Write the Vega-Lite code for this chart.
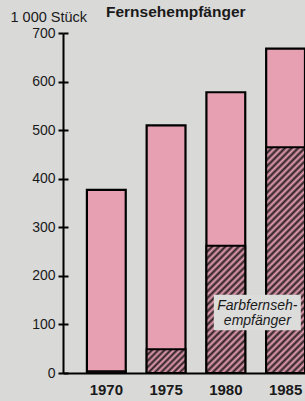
{
  "$schema": "https://vega.github.io/schema/vega-lite/v6.json",
  "width": 242,
  "height": 340,
  "autosize": {"type": "none"},
  "padding": {"left": 63, "top": 33, "right": 0, "bottom": 28},
  "background": "#d9d9d8",
  "config": {
    "view": {"stroke": null},
    "font": "Liberation Sans",
    "axisY": {"values": [0, 100, 200, 300, 400, 500, 600, 700], "titleAngle": 0, "titleX": -53, "titleY": -12, "titleAlign": "left", "titleBaseline": "alphabetic", "titleFontSize": 14.5, "titleFontWeight": "normal", "titleColor": "#1a1a1a", "labelFontSize": 14, "labelColor": "#1a1a1a", "labelPadding": 3, "tickSize": 5, "tickWidth": 2, "tickColor": "black", "domainColor": "black", "domainWidth": 2, "grid": false}
  },
  "resolve": {"axis": {"y": "independent"}},
  "title": {"text": "Fernsehempfänger", "anchor": "start", "frame": "group", "dx": 43, "offset": 0, "dy": 23, "fontSize": 15.5, "fontWeight": "bold", "color": "#1a1a1a", "baseline": "alphabetic"},
  "datasets": {
    "tv": [
      {"year": "1970", "total": 377, "farb": 4},
      {"year": "1975", "total": 510, "farb": 49},
      {"year": "1980", "total": 578, "farb": 262},
      {"year": "1985", "total": 668, "farb": 465}
    ],
    "note": [{"label": "Farbfernseh-\nempfänger"}]
  },
  "data": {"name": "tv"},
  "encoding": {
    "x": {
      "field": "year", "type": "ordinal",
      "scale": {"paddingInner": 0.35, "paddingOuter": 0.2, "align": 1},
      "axis": {"title": null, "labelAngle": 0, "ticks": false, "labelFontSize": 15, "labelFontWeight": "bold", "labelPadding": 9, "domainColor": "black", "domainWidth": 2, "labelColor": "#1a1a1a"}
    }
  },
  "layer": [
    {
      "mark": {"type": "bar", "fill": "#e6a0b2", "stroke": "black", "strokeWidth": 2.2},
      "encoding": {
        "y": {"field": "total", "type": "quantitative", "title": "1 000 Stück", "scale": {"domain": [0, 700], "nice": false}, "axis": {"orient": "left"}}
      }
    },
    {
      "transform": [{"filter": "datum.year == '1970'"}],
      "mark": {"type": "bar", "fill": "#2b1d24", "stroke": "black", "strokeWidth": 1.5},
      "encoding": {"y": {"field": "farb", "type": "quantitative", "axis": {"orient": "left", "title": null, "labels": false, "domain": false, "tickSize": -5}}}
    },
    {
      "transform": [{"filter": "datum.year == '1975'"}],
      "mark": {"type": "bar", "stroke": "black", "strokeWidth": 2,
        "fill": {"gradient": "linear", "x1": 0, "y1": 0, "x2": 1.1735, "y2": 0.7162, "stops": [
          {"offset": 0, "color": "#2b1d24"}, {"offset": 0.05, "color": "#e6a0b2"}, {"offset": 0.1, "color": "#2b1d24"}, {"offset": 0.15, "color": "#e6a0b2"}, {"offset": 0.2, "color": "#2b1d24"}, {"offset": 0.25, "color": "#e6a0b2"}, {"offset": 0.3, "color": "#2b1d24"}, {"offset": 0.35, "color": "#e6a0b2"}, {"offset": 0.4, "color": "#2b1d24"}, {"offset": 0.45, "color": "#e6a0b2"}, {"offset": 0.5, "color": "#2b1d24"}, {"offset": 0.55, "color": "#e6a0b2"}, {"offset": 0.6, "color": "#2b1d24"}, {"offset": 0.65, "color": "#e6a0b2"}, {"offset": 0.7, "color": "#2b1d24"}, {"offset": 0.75, "color": "#e6a0b2"}, {"offset": 0.8, "color": "#2b1d24"}, {"offset": 0.85, "color": "#e6a0b2"}, {"offset": 0.9, "color": "#2b1d24"}, {"offset": 0.95, "color": "#e6a0b2"}, {"offset": 1, "color": "#2b1d24"}
        ]}},
      "encoding": {"y": {"field": "farb", "type": "quantitative", "axis": null}}
    },
    {
      "transform": [{"filter": "datum.year == '1980'"}],
      "mark": {"type": "bar", "stroke": "black", "strokeWidth": 2,
        "fill": {"gradient": "linear", "x1": 0, "y1": 0, "x2": 0.3659, "y2": 1.1943, "stops": [
          {"offset": 0, "color": "#2b1d24"}, {"offset": 0.02, "color": "#e6a0b2"}, {"offset": 0.04, "color": "#2b1d24"}, {"offset": 0.06, "color": "#e6a0b2"}, {"offset": 0.08, "color": "#2b1d24"}, {"offset": 0.1, "color": "#e6a0b2"}, {"offset": 0.12, "color": "#2b1d24"}, {"offset": 0.14, "color": "#e6a0b2"}, {"offset": 0.16, "color": "#2b1d24"}, {"offset": 0.18, "color": "#e6a0b2"}, {"offset": 0.2, "color": "#2b1d24"}, {"offset": 0.22, "color": "#e6a0b2"}, {"offset": 0.24, "color": "#2b1d24"}, {"offset": 0.26, "color": "#e6a0b2"}, {"offset": 0.28, "color": "#2b1d24"}, {"offset": 0.3, "color": "#e6a0b2"}, {"offset": 0.32, "color": "#2b1d24"}, {"offset": 0.34, "color": "#e6a0b2"}, {"offset": 0.36, "color": "#2b1d24"}, {"offset": 0.38, "color": "#e6a0b2"}, {"offset": 0.4, "color": "#2b1d24"}, {"offset": 0.42, "color": "#e6a0b2"}, {"offset": 0.44, "color": "#2b1d24"}, {"offset": 0.46, "color": "#e6a0b2"}, {"offset": 0.48, "color": "#2b1d24"}, {"offset": 0.5, "color": "#e6a0b2"}, {"offset": 0.52, "color": "#2b1d24"}, {"offset": 0.54, "color": "#e6a0b2"}, {"offset": 0.56, "color": "#2b1d24"}, {"offset": 0.58, "color": "#e6a0b2"}, {"offset": 0.6, "color": "#2b1d24"}, {"offset": 0.62, "color": "#e6a0b2"}, {"offset": 0.64, "color": "#2b1d24"}, {"offset": 0.66, "color": "#e6a0b2"}, {"offset": 0.68, "color": "#2b1d24"}, {"offset": 0.7, "color": "#e6a0b2"}, {"offset": 0.72, "color": "#2b1d24"}, {"offset": 0.74, "color": "#e6a0b2"}, {"offset": 0.76, "color": "#2b1d24"}, {"offset": 0.78, "color": "#e6a0b2"}, {"offset": 0.8, "color": "#2b1d24"}, {"offset": 0.82, "color": "#e6a0b2"}, {"offset": 0.84, "color": "#2b1d24"}, {"offset": 0.86, "color": "#e6a0b2"}, {"offset": 0.88, "color": "#2b1d24"}, {"offset": 0.9, "color": "#e6a0b2"}, {"offset": 0.92, "color": "#2b1d24"}, {"offset": 0.94, "color": "#e6a0b2"}, {"offset": 0.96, "color": "#2b1d24"}, {"offset": 0.98, "color": "#e6a0b2"}, {"offset": 1, "color": "#2b1d24"}
        ]}},
      "encoding": {"y": {"field": "farb", "type": "quantitative", "axis": null}}
    },
    {
      "transform": [{"filter": "datum.year == '1985'"}],
      "mark": {"type": "bar", "stroke": "black", "strokeWidth": 2,
        "fill": {"gradient": "linear", "x1": 0, "y1": 0, "x2": 0.1966, "y2": 1.1387, "stops": [
          {"offset": 0, "color": "#2b1d24"}, {"offset": 0.0125, "color": "#e6a0b2"}, {"offset": 0.025, "color": "#2b1d24"}, {"offset": 0.0375, "color": "#e6a0b2"}, {"offset": 0.05, "color": "#2b1d24"}, {"offset": 0.0625, "color": "#e6a0b2"}, {"offset": 0.075, "color": "#2b1d24"}, {"offset": 0.0875, "color": "#e6a0b2"}, {"offset": 0.1, "color": "#2b1d24"}, {"offset": 0.1125, "color": "#e6a0b2"}, {"offset": 0.125, "color": "#2b1d24"}, {"offset": 0.1375, "color": "#e6a0b2"}, {"offset": 0.15, "color": "#2b1d24"}, {"offset": 0.1625, "color": "#e6a0b2"}, {"offset": 0.175, "color": "#2b1d24"}, {"offset": 0.1875, "color": "#e6a0b2"}, {"offset": 0.2, "color": "#2b1d24"}, {"offset": 0.2125, "color": "#e6a0b2"}, {"offset": 0.225, "color": "#2b1d24"}, {"offset": 0.2375, "color": "#e6a0b2"}, {"offset": 0.25, "color": "#2b1d24"}, {"offset": 0.2625, "color": "#e6a0b2"}, {"offset": 0.275, "color": "#2b1d24"}, {"offset": 0.2875, "color": "#e6a0b2"}, {"offset": 0.3, "color": "#2b1d24"}, {"offset": 0.3125, "color": "#e6a0b2"}, {"offset": 0.325, "color": "#2b1d24"}, {"offset": 0.3375, "color": "#e6a0b2"}, {"offset": 0.35, "color": "#2b1d24"}, {"offset": 0.3625, "color": "#e6a0b2"}, {"offset": 0.375, "color": "#2b1d24"}, {"offset": 0.3875, "color": "#e6a0b2"}, {"offset": 0.4, "color": "#2b1d24"}, {"offset": 0.4125, "color": "#e6a0b2"}, {"offset": 0.425, "color": "#2b1d24"}, {"offset": 0.4375, "color": "#e6a0b2"}, {"offset": 0.45, "color": "#2b1d24"}, {"offset": 0.4625, "color": "#e6a0b2"}, {"offset": 0.475, "color": "#2b1d24"}, {"offset": 0.4875, "color": "#e6a0b2"}, {"offset": 0.5, "color": "#2b1d24"}, {"offset": 0.5125, "color": "#e6a0b2"}, {"offset": 0.525, "color": "#2b1d24"}, {"offset": 0.5375, "color": "#e6a0b2"}, {"offset": 0.55, "color": "#2b1d24"}, {"offset": 0.5625, "color": "#e6a0b2"}, {"offset": 0.575, "color": "#2b1d24"}, {"offset": 0.5875, "color": "#e6a0b2"}, {"offset": 0.6, "color": "#2b1d24"}, {"offset": 0.6125, "color": "#e6a0b2"}, {"offset": 0.625, "color": "#2b1d24"}, {"offset": 0.6375, "color": "#e6a0b2"}, {"offset": 0.65, "color": "#2b1d24"}, {"offset": 0.6625, "color": "#e6a0b2"}, {"offset": 0.675, "color": "#2b1d24"}, {"offset": 0.6875, "color": "#e6a0b2"}, {"offset": 0.7, "color": "#2b1d24"}, {"offset": 0.7125, "color": "#e6a0b2"}, {"offset": 0.725, "color": "#2b1d24"}, {"offset": 0.7375, "color": "#e6a0b2"}, {"offset": 0.75, "color": "#2b1d24"}, {"offset": 0.7625, "color": "#e6a0b2"}, {"offset": 0.775, "color": "#2b1d24"}, {"offset": 0.7875, "color": "#e6a0b2"}, {"offset": 0.8, "color": "#2b1d24"}, {"offset": 0.8125, "color": "#e6a0b2"}, {"offset": 0.825, "color": "#2b1d24"}, {"offset": 0.8375, "color": "#e6a0b2"}, {"offset": 0.85, "color": "#2b1d24"}, {"offset": 0.8625, "color": "#e6a0b2"}, {"offset": 0.875, "color": "#2b1d24"}, {"offset": 0.8875, "color": "#e6a0b2"}, {"offset": 0.9, "color": "#2b1d24"}, {"offset": 0.9125, "color": "#e6a0b2"}, {"offset": 0.925, "color": "#2b1d24"}, {"offset": 0.9375, "color": "#e6a0b2"}, {"offset": 0.95, "color": "#2b1d24"}, {"offset": 0.9625, "color": "#e6a0b2"}, {"offset": 0.975, "color": "#2b1d24"}, {"offset": 0.9875, "color": "#e6a0b2"}, {"offset": 1, "color": "#2b1d24"}
        ]}},
      "encoding": {"y": {"field": "farb", "type": "quantitative", "axis": null}}
    },
    {
      "data": {"name": "note"},
      "mark": {"type": "bar", "width": 87, "xOffset": 31.5, "fill": "#dcdcda"},
      "encoding": {
        "x": {"datum": "1980", "type": "ordinal"},
        "y": {"datum": 88, "type": "quantitative", "axis": null},
        "y2": {"datum": 161}
      }
    },
    {
      "data": {"name": "note"},
      "mark": {"type": "text", "lineBreak": "\n", "fontStyle": "italic", "fontSize": 14, "lineHeight": 15, "dx": 31.5, "baseline": "middle", "align": "center", "color": "#1a1a1a"},
      "encoding": {
        "x": {"datum": "1980", "type": "ordinal"},
        "y": {"datum": 138, "type": "quantitative", "axis": null},
        "text": {"field": "label"}
      }
    }
  ]
}
